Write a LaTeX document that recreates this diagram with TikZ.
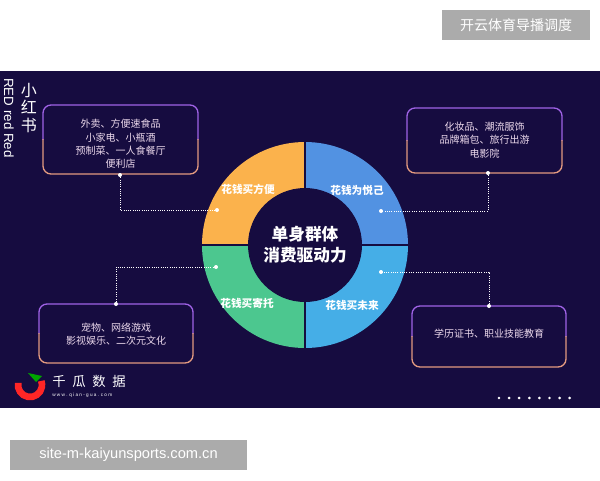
\documentclass[tikz,border=0pt]{standalone}
\usepackage{fontspec}
\setmainfont{Noto Sans CJK SC}
\newfontfamily\latinsans{Liberation Sans}
\begin{document}
\begin{tikzpicture}[x=0.75pt,y=-0.75pt,
  every node/.style={inner sep=0pt},
  boxtext/.style={align=center,text=white!85!violet,font=\fontsize{7.5}{10}\selectfont},
  seglabel/.style={text=white,font=\fontsize{8}{9}\selectfont\bfseries},
  conn/.style={draw=white,densely dotted,line width=0.7pt},
  enddot/.style={circle,fill=white,minimum size=3pt},
  greylabel/.style={fill=black!33,text=white,inner sep=0pt}]
\definecolor{panel}{HTML}{160C40}
\definecolor{org}{HTML}{FBB24C}
\definecolor{bluetop}{HTML}{5292E2}
\definecolor{bluebot}{HTML}{45AEE7}
\definecolor{grn}{HTML}{4CC78F}
\definecolor{bordtop}{HTML}{A063E6}
\definecolor{bordbot}{HTML}{E39A80}
\useasboundingbox (0,0) rectangle (600,480);
\fill[white] (0,0) rectangle (600,480);
\fill[panel] (0,71) rectangle (600,408);
% grey labels
\node[greylabel,minimum width=111pt,minimum height=22.5pt] (tl) at (516,25) {\fontsize{10.5}{12}\selectfont 开云体育导播调度};
\node[greylabel,minimum width=177.75pt,minimum height=22.5pt] (bl) at (128.5,455) {\latinsans\fontsize{11}{12}\selectfont site-m-kaiyunsports.com.cn};
% side texts
\node[text=white,align=center,font=\fontsize{12}{13}\selectfont] (xhs) at (29,108) {小\\红\\书};
\node[text=white,rotate=-90,font=\latinsans\fontsize{10}{12}\selectfont] (red) at (9,118) {RED red Red};
% ring
\coordinate (c) at (305,245);
\begin{scope}[shift={(c)},x=0.75pt,y=0.75pt]
\fill[org] (0,0) -- (180:103) arc[start angle=180,end angle=90,radius=77.25pt] -- cycle;
\fill[bluetop] (0,0) -- (90:103) arc[start angle=90,end angle=0,radius=77.25pt] -- cycle;
\fill[bluebot] (0,0) -- (0:103) arc[start angle=0,end angle=-90,radius=77.25pt] -- cycle;
\fill[grn] (0,0) -- (-90:103) arc[start angle=-90,end angle=-180,radius=77.25pt] -- cycle;
\draw[panel,line width=1pt] (-104,0) -- (104,0) (0,-104) -- (0,104);
\fill[panel] (0,0) circle[radius=42.75pt];
\end{scope}
\node[text=white,align=center,font=\fontsize{12.5}{16}\selectfont\bfseries] (ctr) at (c) {单身群体\\消费驱动力};
\node[seglabel] (s1) at (248,189) {花钱买方便};
\node[seglabel] (s2) at (357,190) {花钱为悦己};
\node[seglabel] (s3) at (247,303) {花钱买寄托};
\node[seglabel] (s4) at (352,305) {花钱买未来};
% boxes
\newcommand{\gbox}[4]{%
  \begin{scope}\clip (#1-5,#2-5) rectangle (#3+5,{(#2+#4)/2});
  \draw[bordtop,line width=1pt,rounded corners=6] (#1,#2) rectangle (#3,#4);\end{scope}
  \begin{scope}\clip (#1-5,{(#2+#4)/2}) rectangle (#3+5,#4+5);
  \draw[bordbot,line width=1pt,rounded corners=6] (#1,#2) rectangle (#3,#4);\end{scope}}
\gbox{43}{105}{198}{174}
\gbox{407}{108}{562}{173}
\gbox{39}{304}{193}{363}
\gbox{412}{306}{566}{367}
\node[boxtext] (b1) at (120.5,144) {外卖、方便速食品\\小家电、小瓶酒\\预制菜、一人食餐厅\\便利店};
\node[boxtext] (b2) at (484.5,140) {化妆品、潮流服饰\\品牌箱包、旅行出游\\电影院};
\node[boxtext] (b3) at (116,334) {宠物、网络游戏\\影视娱乐、二次元文化};
\node[boxtext] (b4) at (489,334) {学历证书、职业技能教育};
% connectors
\coordinate (a1) at (120,175); \coordinate (d1) at (217,210);
\coordinate (a2) at (488,173); \coordinate (d2) at (381,211);
\coordinate (a3) at (116,304); \coordinate (d3) at (216,267);
\coordinate (a4) at (489,306); \coordinate (d4) at (381,272);
\draw[conn] (a1) |- (d1);
\draw[conn] (a2) |- (d2);
\draw[conn] (a3) |- (d3);
\draw[conn] (a4) |- (d4);
\foreach \p in {a1,d1,a2,d2,a3,d3,a4,d4} \node[enddot] at (\p) {};
% dots bottom right
\foreach \i in {0,...,7} {\fill[white] (499+\i*10.1,398) circle[radius=1.1pt];}
% logo
\begin{scope}[shift={(30,385)},x=0.75pt,y=0.75pt]
\draw[red!80!pink,line width=5pt] (170:12) arc[start angle=170,end angle=380,radius=9pt];
\fill[green!65!black] (-2,12) -- (12,9) -- (6,3) -- cycle;
\end{scope}
\node[anchor=west,text=white,font=\fontsize{10}{12}\selectfont] (lg) at (52,381) {千\hspace{5pt}瓜\hspace{5pt}数\hspace{5pt}据};
\node[anchor=west,text=white!80,font=\latinsans\fontsize{3.5}{4}\selectfont] (url) at (52,395) {w w w . q i a n - g u a . c o m};
\end{tikzpicture}
\end{document}
